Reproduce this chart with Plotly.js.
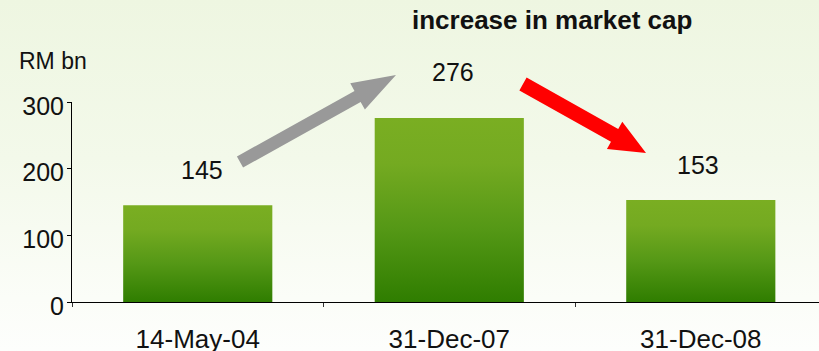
<!DOCTYPE html>
<html>
<head>
<meta charset="utf-8">
<script src="https://cdn.plot.ly/plotly-3.0.1.min.js"></script>
<style>
  html, body { margin: 0; padding: 0; }
  body { width: 819px; height: 351px; overflow: hidden;
         background: linear-gradient(to bottom, #eef6e1 0%, #f3f9ea 45%, #fbfdf8 85%, #fdfefc 100%); }
  #chart { width: 819px; height: 351px; }
</style>
</head>
<body>
<div id="chart"></div>
<script>
// ---- data ----
const categories = ['14-May-04', '31-Dec-07', '31-Dec-08'];
const marketCap = [145, 276, 153];
const valueLabels = ['145', '276', '153'];
const yTickVals = [0, 100, 200, 300];
const yTickText = ['0', '100', '200', '300'];
const chartTitle = 'increase in market cap';
const unitLabel = 'RM bn';

// ---- layout geometry ----
const W = 819, H = 351;
const M = { l: 72, r: 0, t: 102, b: 49 };
const plotW = W - M.l - M.r, plotH = H - M.t - M.b;
const FONT = 'Liberation Sans, Arial, Helvetica, sans-serif';
// pixel -> paper helpers (decorations only)
const px = x => (x - M.l) / plotW;
const py = y => (H - M.b - y) / plotH;

function arrowPath(tail, tip, hw, HW, headLen) {
  const dx = tip[0] - tail[0], dy = tip[1] - tail[1];
  const L = Math.hypot(dx, dy);
  const u = [dx / L, dy / L], n = [-u[1], u[0]];
  const B = [tip[0] - u[0] * headLen, tip[1] - u[1] * headLen];
  const pts = [
    [tail[0] + n[0] * hw, tail[1] + n[1] * hw],
    [B[0] + n[0] * hw, B[1] + n[1] * hw],
    [B[0] + n[0] * HW, B[1] + n[1] * HW],
    tip,
    [B[0] - n[0] * HW, B[1] - n[1] * HW],
    [B[0] - n[0] * hw, B[1] - n[1] * hw],
    [tail[0] - n[0] * hw, tail[1] - n[1] * hw]
  ];
  return 'M' + pts.map(p => px(p[0]).toFixed(5) + ',' + py(p[1]).toFixed(5)).join(' L') + ' Z';
}

const labelShifts = [{ x: 4, y: 35 }, { x: 4, y: 46 }, { x: -3, y: 35 }];

const trace = {
  type: 'bar',
  x: categories,
  y: marketCap,
  width: 0.593,
  marker: { color: '#5a9a16', line: { width: 0 } },
  hoverinfo: 'skip'
};

const annotations = categories.map((c, i) => ({
  xref: 'x', yref: 'y', x: c, y: marketCap[i],
  text: valueLabels[i], showarrow: false,
  xshift: labelShifts[i].x, yshift: labelShifts[i].y,
  font: { family: FONT, size: 25, color: '#111' }
}));
annotations.push({
  xref: 'paper', yref: 'paper', x: px(552), y: py(20),
  xanchor: 'center', yanchor: 'middle',
  text: '<b>' + chartTitle + '</b>', showarrow: false,
  font: { family: FONT, size: 26, color: '#111' }
});
annotations.push({
  xref: 'paper', yref: 'paper', x: px(17), y: py(61),
  xanchor: 'left', yanchor: 'middle',
  text: unitLabel, showarrow: false,
  font: { family: FONT, size: 23, color: '#111' }
});

const layout = {
  width: W, height: H,
  margin: M,
  paper_bgcolor: 'rgba(0,0,0,0)',
  plot_bgcolor: 'rgba(0,0,0,0)',
  showlegend: false,
  font: { family: FONT, color: '#111' },
  xaxis: {
    type: 'category',
    range: [-0.5, 2.47],
    showline: true, linecolor: '#000', linewidth: 1,
    ticks: 'outside', tickson: 'boundaries', ticklen: 4, tickcolor: '#333', tickwidth: 1,
    showgrid: false, zeroline: false,
    tickfont: { family: FONT, size: 26, color: '#111' },
    ticklabelstandoff: 14
  },
  yaxis: {
    range: [0, 300],
    tickvals: yTickVals, ticktext: yTickText,
    showline: true, linecolor: '#000', linewidth: 1,
    ticks: 'outside', ticklen: 4, tickcolor: '#000', tickwidth: 1,
    showgrid: false, zeroline: false,
    tickfont: { family: FONT, size: 25, color: '#111' },
    ticklabelshift: 4,
    ticklabelstandoff: -2
  },
  annotations: annotations,
  shapes: [
    { type: 'path', xref: 'paper', yref: 'paper', layer: 'above',
      path: arrowPath([240, 162], [396, 75], 6.3, 15, 44),
      fillcolor: '#999999', line: { width: 0 } },
    { type: 'path', xref: 'paper', yref: 'paper', layer: 'above',
      path: arrowPath([523, 84], [646, 153], 7.4, 15.7, 36),
      fillcolor: '#ff0000', line: { width: 0 } }
  ]
};

Plotly.newPlot('chart', [trace], layout, { staticPlot: true, displayModeBar: false }).then(gd => {
  const svg = gd.querySelector('svg.main-svg');
  const NS = 'http://www.w3.org/2000/svg';
  let defs = svg.querySelector('defs');
  if (!defs) { defs = document.createElementNS(NS, 'defs'); svg.insertBefore(defs, svg.firstChild); }
  const g = document.createElementNS(NS, 'linearGradient');
  g.setAttribute('id', 'barGrad');
  g.setAttribute('x1', '0'); g.setAttribute('y1', '0');
  g.setAttribute('x2', '0'); g.setAttribute('y2', '1');
  [['0%', '#7aae22'], ['25%', '#74aa21'], ['60%', '#559816'], ['100%', '#2f7d00']].forEach(([o, c]) => {
    const s = document.createElementNS(NS, 'stop');
    s.setAttribute('offset', o); s.setAttribute('stop-color', c);
    g.appendChild(s);
  });
  defs.appendChild(g);
  gd.querySelectorAll('.barlayer .point path').forEach(p => { p.style.fill = 'url(#barGrad)'; });
});
</script>
</body>
</html>
